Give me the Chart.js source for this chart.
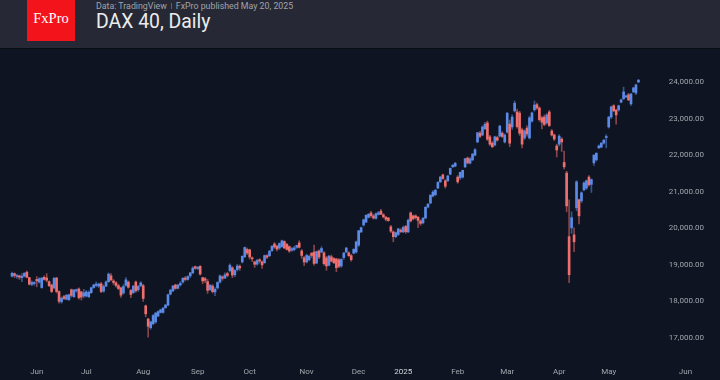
<!DOCTYPE html>
<html>
<head>
<meta charset="utf-8">
<title>DAX 40, Daily</title>
<script src="https://cdn.jsdelivr.net/npm/chart.js@4.4.1/dist/chart.umd.min.js"></script>
<style>
  html, body { margin: 0; padding: 0; background: #0e1421; }
  body { width: 720px; height: 380px; position: relative; overflow: hidden; font-family: Roboto, "Noto Sans", sans-serif; }
  .header { position: absolute; left: 0; top: 0; width: 720px; height: 48px; background: #262935; border-bottom: 1px solid #0a0d14; }
  .logo { position: absolute; left: 27px; top: 0; width: 48px; height: 41px; background: #f2131b; }
  .logo span { position: absolute; left: 0; width: 48px; top: 11px; text-align: center; color: #fff; font-family: "Liberation Serif", "DejaVu Serif", serif; font-size: 14.5px; line-height: 1; }
  .sub { position: absolute; left: 96px; top: 2px; font-size: 8.8px; line-height: 1; color: #a0a3ab; white-space: nowrap; }
  .sep { display: inline-block; width: 1px; height: 6px; background: #5d606a; margin: 0 4px; vertical-align: 0; }
  .title { position: absolute; left: 96px; top: 12px; font-size: 19.4px; line-height: 1; color: #ececec; white-space: nowrap; }
  #wrap { position: absolute; left: 0; top: 49px; width: 720px; height: 331px; }
</style>
</head>
<body>
<div class="header">
  <div class="logo"><span>FxPro</span></div>
  <div class="sub">Data: TradingView<span class="sep"></span>FxPro published May 20, 2025</div>
  <div class="title">DAX 40, Daily</div>
</div>
<div id="wrap"><canvas id="chart" width="720" height="331"></canvas></div>
<script>
// daily OHLC, 20 May 2024 .. 20 May 2025 (bar index 0..253)
const opens = [
  18690,18760,18680,18700,18650,18690,18800,18650,18470,18490,
  18600,18530,18380,18660,18640,18540,18450,18370,18640,18270,
  17990,18130,18060,18050,18320,18130,18290,18340,18260,18150,
  18150,18130,18240,18380,18440,18420,18480,18280,18420,18540,
  18700,18560,18510,18430,18370,18230,18440,18530,18300,18240,
  18530,18320,18430,18430,17880,17520,17280,17390,17440,17600,
  17700,17700,17830,17900,18200,18290,18450,18360,18450,18530,
  18640,18600,18700,18780,18950,18900,18960,18650,18620,18540,
  18320,18420,18260,18370,18530,18670,18640,18760,18840,18920,
  18730,18870,18960,19080,19220,19420,19410,19190,19080,19020,
  19140,19080,19060,19250,19250,19390,19570,19510,19460,19500,
  19640,19560,19500,19400,19420,19480,19600,19380,19190,19080,
  19140,19320,19350,19050,19380,19350,19330,19190,18990,19220,
  19170,19160,19140,18970,19200,19350,19330,19250,19320,19350,
  19540,19900,20090,20170,20300,20420,20340,20270,20380,20470,
  20370,20300,20280,20040,19900,19770,19830,19950,19900,20050,
  19900,20420,20340,20340,20300,20200,20150,20280,20580,20690,
  20880,20920,21100,21270,21460,21300,21300,21480,21680,21700,
  21400,21380,21400,21680,21920,21780,21870,22000,22360,22600,
  22550,22720,22880,22500,22330,22280,22480,22520,22600,22360,
  22630,22850,22770,23210,23180,23150,22690,22470,22740,22470,
  22930,23240,23380,23290,23020,23040,22880,23180,22660,22550,
  22250,22300,22440,21800,21510,19770,20010,19820,20560,20780,
  20750,21050,21100,21400,21200,21790,21870,22200,22220,22330,
  22480,22770,23040,23350,23230,23240,23450,23540,23590,23650,
  23400,23730,23700,24000
];
const highs = [
  18800,18780,18740,18720,18760,18790,18830,18660,18560,18540,
  18680,18650,18650,18700,18760,18560,18470,18660,18660,18290,
  18120,18170,18190,18200,18340,18330,18340,18370,18280,18330,
  18300,18290,18390,18470,18530,18500,18520,18450,18560,18780,
  18760,18600,18540,18470,18390,18460,18650,18560,18330,18440,
  18560,18440,18540,18470,17900,17540,17460,17640,17700,17740,
  17790,17840,17920,18200,18330,18440,18470,18470,18540,18650,
  18680,18700,18790,18950,18970,18960,18980,18660,18660,18600,
  18460,18460,18380,18540,18720,18700,18780,18800,19030,18950,
  18870,19010,19000,19240,19490,19460,19430,19220,19100,19150,
  19170,19110,19270,19280,19400,19530,19610,19540,19600,19680,
  19660,19590,19520,19480,19510,19540,19660,19420,19230,19290,
  19270,19330,19540,19380,19410,19500,19360,19230,19260,19270,
  19200,19180,19170,19170,19340,19480,19360,19290,19440,19650,
  19940,20030,20250,20360,20400,20460,20380,20420,20460,20520,
  20400,20330,20300,20080,19930,19900,20000,19990,20060,20080,
  20250,20450,20360,20370,20330,20230,20300,20590,20680,20920,
  21030,21060,21280,21420,21480,21330,21450,21650,21740,21800,
  21440,21540,21590,21910,21950,21930,22040,22180,22620,22650,
  22800,22900,22930,22540,22370,22520,22520,22820,22640,22580,
  23170,22960,23100,23480,23260,23200,22740,22700,22800,23060,
  23180,23480,23420,23320,23060,23100,23140,23220,22700,22580,
  22300,22560,22480,22110,21560,20780,20450,20010,21300,20800,
  21000,21270,21320,21440,21350,22010,22070,22280,22340,22430,
  22560,23060,23340,23380,23260,23370,23530,23860,23640,23690,
  23690,23850,23940,24070
];
const lows = [
  18670,18650,18630,18600,18540,18670,18640,18450,18430,18440,
  18400,18500,18360,18580,18530,18400,18240,18340,18230,17950,
  17950,18050,18040,18020,18120,18110,18250,18060,18040,18100,
  18120,18100,18220,18360,18400,18380,18240,18250,18400,18520,
  18560,18460,18390,18320,18110,18200,18420,18360,18100,18220,
  18250,18270,18400,18000,17580,17025,17240,17360,17400,17580,
  17680,17680,17810,17880,18180,18270,18330,18340,18420,18500,
  18560,18580,18650,18760,18880,18870,18720,18480,18510,18220,
  18300,18230,18160,18340,18500,18580,18620,18670,18810,18650,
  18680,18830,18850,19050,19200,19280,19160,19090,18930,18990,
  19050,18900,19040,19170,19220,19370,19450,19380,19420,19480,
  19440,19400,19340,19370,19380,19450,19460,19180,18980,19050,
  19110,19200,18990,19030,19170,19330,18990,18850,18970,19080,
  19030,18810,18920,18930,19150,19330,19230,19100,19300,19320,
  19500,19880,20060,20150,20280,20300,20250,20250,20360,20380,
  20280,20200,20190,19880,19630,19740,19800,19880,19880,19860,
  19880,20170,20230,20250,20020,20080,20120,20260,20560,20670,
  20860,20890,21080,21250,21340,21100,21280,21460,21660,21680,
  21230,21330,21370,21660,21760,21760,21850,21980,22340,22480,
  22530,22700,22400,22260,22200,22250,22380,22500,22480,22330,
  22600,22230,22700,23180,22740,22540,22200,22430,22520,22440,
  22900,23200,23250,22930,22720,22800,22850,22780,22520,22400,
  21950,22250,22100,21620,20450,18510,19860,19360,20480,20120,
  20700,21020,21060,21150,20980,21720,21840,22180,22200,22300,
  22200,22740,23000,23190,22850,23200,23430,23520,23570,23490,
  23360,23710,23650,23980
];
const closes = [
  18770,18710,18700,18660,18690,18770,18660,18470,18520,18510,
  18560,18620,18640,18600,18580,18430,18270,18630,18270,18002,
  18090,18080,18170,18180,18163,18310,18320,18100,18120,18235,
  18260,18250,18374,18450,18475,18472,18270,18407,18534,18748,
  18590,18518,18437,18354,18171,18407,18590,18387,18190,18417,
  18290,18411,18508,18083,17661,17320,17440,17615,17680,17722,
  17770,17812,17900,18184,18310,18421,18356,18448,18493,18633,
  18600,18681,18782,18912,18906,18930,18747,18560,18576,18302,
  18443,18266,18330,18518,18699,18633,18726,18711,18990,18720,
  18847,18970,18918,19238,19474,19324,19213,19164,19015,19120,
  19104,19000,19254,19210,19373,19508,19486,19432,19583,19657,
  19461,19421,19377,19443,19463,19531,19479,19257,19078,19255,
  19230,19256,19039,19362,19215,19448,19033,18970,19240,19100,
  19060,18920,18960,19146,19323,19460,19250,19140,19426,19626,
  19934,20017,20232,20358,20385,20346,20280,20399,20426,20380,
  20313,20246,20210,19920,19770,19880,19984,19909,20024,19906,
  20217,20200,20260,20290,20215,20133,20271,20575,20655,20903,
  20990,21042,21254,21400,21360,21150,21430,21637,21727,21780,
  21270,21530,21585,21902,21787,21900,22030,22148,22612,22513,
  22770,22844,22434,22300,22230,22500,22410,22794,22510,22551,
  23147,22327,23040,23419,22780,22600,22300,22660,22580,23020,
  23154,23370,23290,22970,22900,22840,23100,22810,22550,22440,
  22140,22520,22360,21680,20610,18730,20290,19630,21270,20340,
  20970,21240,21300,21190,21330,22000,22050,22250,22330,22410,
  22510,23040,23320,23210,23100,23350,23510,23730,23620,23510,
  23670,23840,23920,24050
];

// time axis labels (bar index of first session of each month)
const monthIdx = [10, 30, 53, 75, 96, 119, 140, 158, 180, 200, 221, 241, 272];
const monthLabels = ['Jun', 'Jul', 'Aug', 'Sep', 'Oct', 'Nov', 'Dec', '2025', 'Feb', 'Mar', 'Apr', 'May', 'Jun'];
const priceTicks = [17000, 18000, 19000, 20000, 21000, 22000, 23000, 24000];

const UP = '#5b8be6';
const DOWN = '#ef6f6e';
const UP_WICK = 'rgba(91,139,230,0.55)';
const DOWN_WICK = 'rgba(239,111,110,0.55)';

const bodies = opens.map((o, i) => ({ x: i, y: [o, closes[i]] }));
const wicks = lows.map((l, i) => ({ x: i, y: [l, highs[i]] }));
const isUp = opens.map((o, i) => closes[i] >= o);

const axisFont = { family: 'Roboto', size: 8 };

new Chart(document.getElementById('chart'), {
    type: 'bar',
    data: {
        datasets: [
            {
                label: 'body',
                data: bodies,
                backgroundColor: isUp.map(u => u ? UP : DOWN),
                borderWidth: 0,
                barThickness: 2,
                minBarLength: 1,
                grouped: false,
                order: 0
            },
            {
                label: 'wick',
                data: wicks,
                backgroundColor: isUp.map(u => u ? UP_WICK : DOWN_WICK),
                borderWidth: 0,
                barThickness: 1,
                grouped: false,
                order: 1
            }
        ]
    },
    options: {
        responsive: false,
        animation: false,
        events: [],
        layout: { padding: 0 },
        plugins: {
            legend: { display: false },
            tooltip: { enabled: false }
        },
        scales: {
            x: {
                type: 'linear',
                min: -4.846,
                max: 285.94,
                offset: false,
                grid: { display: false, drawTicks: false },
                border: { display: false },
                afterBuildTicks: s => { s.ticks = monthIdx.map(v => ({ value: v })); },
                afterFit: s => { s.height = 22; },
                ticks: {
                    autoSkip: false,
                    maxRotation: 0,
                    padding: 9,
                    font: axisFont,
                    color: c => (c.tick && c.tick.value === 158) ? '#d4d6dc' : '#a3a6ae',
                    callback: v => monthLabels[monthIdx.indexOf(v)]
                }
            },
            y: {
                position: 'right',
                min: 16453,
                max: 24902,
                grid: { display: false, drawTicks: false },
                border: { display: false },
                afterBuildTicks: s => { s.ticks = priceTicks.map(v => ({ value: v })); },
                afterFit: s => { s.width = 0; },
                ticks: {
                    mirror: true,
                    padding: -16,
                    font: axisFont,
                    color: '#a3a6ae',
                    callback: v => v.toLocaleString('en-US', { minimumFractionDigits: 2, maximumFractionDigits: 2 })
                }
            }
        }
    }
});
</script>
</body>
</html>
